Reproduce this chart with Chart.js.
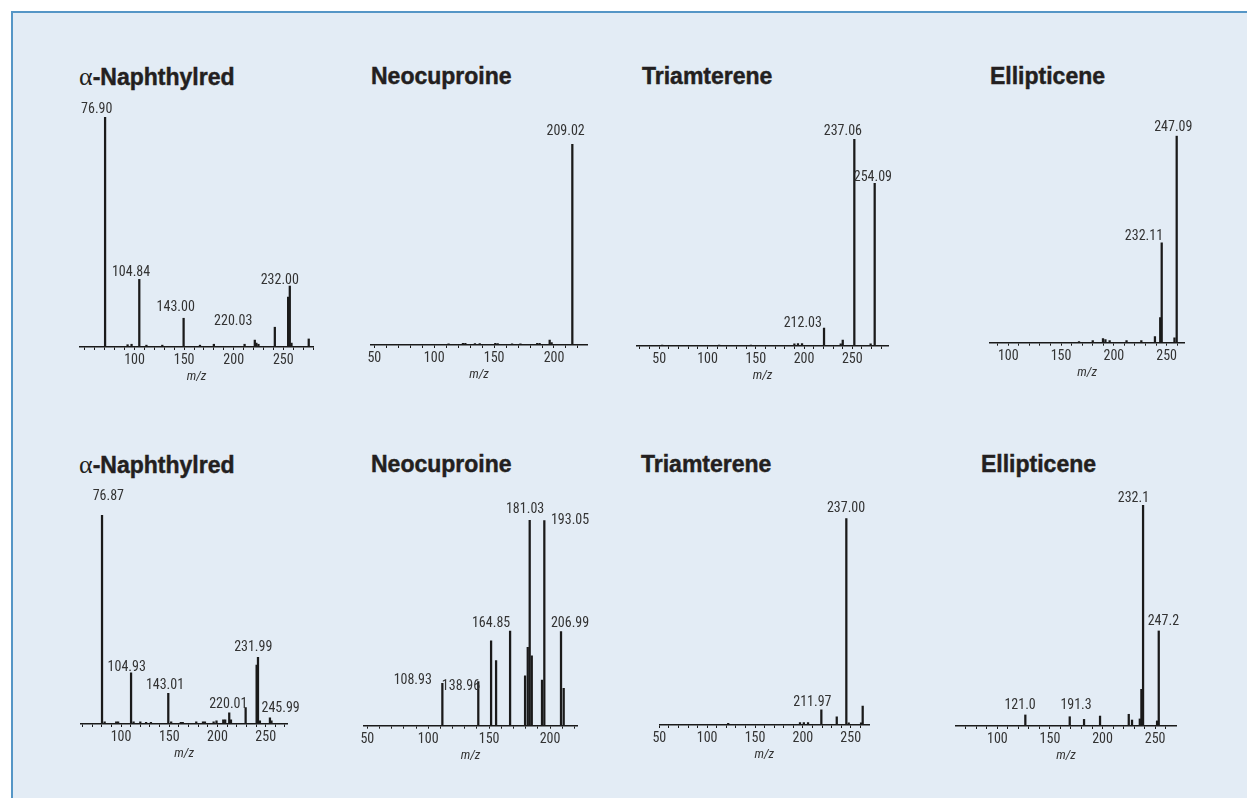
<!DOCTYPE html>
<html><head><meta charset="utf-8">
<script src="https://cdn.jsdelivr.net/npm/chart.js@4.4.1/dist/chart.umd.min.js"></script>
<style>
html,body{margin:0;padding:0;background:#fff;width:1247px;height:798px;overflow:hidden;}
#frame{position:absolute;left:11px;top:11px;width:1236px;height:787px;background:#e3ecf5;border-top:2px solid #5596c6;border-left:2px solid #5596c6;box-sizing:border-box;}
.ttl{position:absolute;font:bold 23px "Liberation Sans",Arial,sans-serif;color:#231f20;line-height:23px;white-space:nowrap;-webkit-text-stroke:0.45px #231f20;}
.ttl .a{font-weight:normal;font-family:"Liberation Serif","Times New Roman",serif;font-size:26px;-webkit-text-stroke:0;}
canvas{position:absolute;}
</style></head><body>
<div id="frame"></div>
<script>
// ---------- titles ----------
const titles = ["α-Naphthylred","Neocuproine","Triamterene","Ellipticene","α-Naphthylred","Neocuproine","Triamterene","Ellipticene"];

// ---------- data (m/z position on axis, relative intensity %) ----------
// Panel 1: α-Naphthylred (top)
const nap1_mz  = [70.3, 93, 97, 104.8, 112, 128, 149.5, 166, 180, 211, 221.3, 222.9, 225, 241.5, 254.9, 256.6, 258.3, 275.7];
const nap1_int = [100, 1, 1.2, 29.4, 0.8, 0.8, 12.5, 0.8, 1.2, 1.2, 3, 1.7, 1.2, 8.6, 21.7, 26.5, 1.7, 3.5];
const nap1_labels = ["76.90","104.84","143.00","220.03","232.00"];
const nap1_labelMz = [61.9, 96.5, 141.5, 199.5, 246.5];
const nap1_labelInt = [103.3, 32.3, 17.3, 11, 29.1];
const nap1_range = [45, 280];
const nap1_ticks = [100,150,200,250];

// Panel 2: Neocuproine (top)
const neo1_mz  = [112, 124, 126, 134, 138, 151, 153, 165, 172, 186, 188, 196.4, 198, 215.3];
const neo1_int = [0.6, 0.8, 0.8, 0.7, 0.7, 0.8, 0.7, 0.6, 0.6, 0.8, 0.8, 2.5, 1.2, 100];
const neo1_labels = ["209.02"];
const neo1_labelMz = [209.7];
const neo1_labelInt = [106.1];
const neo1_range = [47, 227.8];
const neo1_ticks = [50,100,150,200];

// Panel 3: Triamterene (top)
const tri1_mz  = [53, 112, 145, 190, 193.7, 197.9, 220.7, 238, 240.1, 252.1, 269, 273.2];
const tri1_int = [0.5, 0.5, 0.5, 1, 1.2, 1.2, 8.6, 1, 2.9, 100, 1, 78.6];
const tri1_labels = ["237.06","254.09","212.03"];
const tri1_labelMz = [240.2, 271.3, 198.7];
const tri1_labelInt = [103.5, 81.2, 11.1];
const tri1_range = [26.6, 287.3];
const tri1_ticks = [50,100,150,200,250];

// Panel 4: Ellipticene (top)
const ell1_mz  = [167, 180, 189.7, 192, 196, 212, 226, 238.9, 243.9, 245.3, 257.4, 259.5];
const ell1_int = [0.6, 1, 2, 1.5, 1, 1, 1, 2.9, 12.1, 48.3, 2.4, 100];
const ell1_labels = ["247.09","232.11"];
const ell1_labelMz = [256.3, 228.5];
const ell1_labelInt = [103.9, 51.2];
const ell1_range = [82.7, 266.7];
const ell1_ticks = [100,150,200,250];

// Panel 5: α-Naphthylred (bottom)
const nap2_mz  = [80.3, 83, 95, 97, 110.4, 113, 120, 126, 131, 149, 152, 162, 164, 178, 185, 187, 196, 199, 206, 208, 212.2, 214, 229.2, 240.6, 242, 244, 254.4, 256];
const nap2_int = [100, 1, 1, 1, 24.5, 1, 1, 0.8, 0.8, 14.7, 1, 0.8, 0.8, 1, 1, 1, 1, 1.5, 2, 2, 5.4, 2, 7.8, 28.2, 31.9, 1.5, 2.9, 1.5];
const nap2_labels = ["76.87","104.93","143.01","220.01","231.99","245.99"];
const nap2_labelMz = [86.8, 105.9, 145.6, 211.2, 237.1, 265.5];
const nap2_labelInt = [108.8, 26.9, 18.2, 9.4, 36.7, 7.5];
const nap2_range = [58.5, 272.4];
const nap2_ticks = [100,150,200,250];

// Panel 6: Neocuproine (bottom)
const neo2_mz  = [111.6, 141.1, 151.6, 155.7, 167.2, 179.5, 181.7, 183.3, 185, 193.4, 195.3, 209, 211.2];
const neo2_int = [20.6, 21.4, 41.3, 31.6, 46, 24.2, 38.1, 100, 34, 22.2, 99.7, 45.7, 18.2];
const neo2_labels = ["181.03","193.05","164.85","206.99","108.93","138.96"];
const neo2_labelMz = [179.5, 216.4, 151.6, 216.4, 87.3, 126.9];
const neo2_labelInt = [104.9, 100, 49.8, 49.8, 22.2, 19];
const neo2_range = [46.7, 222.7];
const neo2_ticks = [50,100,150,200];

// Panel 7: Triamterene (bottom)
const tri2_mz  = [122, 197, 201, 205.4, 219.3, 235.4, 245.4, 247.9, 260.8, 262.5];
const tri2_int = [0.8, 1.2, 1.2, 1.2, 7.3, 4, 100, 1, 1, 9.2];
const tri2_labels = ["237.00","211.97"];
const tri2_labelMz = [245.1, 209.9];
const tri2_labelInt = [104.5, 10.8];
const tri2_range = [50, 269.4];
const tri2_ticks = [50,100,150,200,250];

// Panel 8: Ellipticene (bottom)
const ell2_mz  = [126.6, 168.8, 182.4, 197.6, 224.9, 228, 235.4, 236.9, 238.5, 251.8, 253.4];
const ell2_int = [5, 4.2, 3, 4.5, 5.3, 2.7, 3.2, 16.6, 100, 2.3, 43];
const ell2_labels = ["232.1","247.2","121.0","191.3"];
const ell2_labelMz = [229.3, 257.8, 121.6, 174.8];
const ell2_labelInt = [103, 47.5, 9.2, 9.2];
const ell2_range = [60.7, 269.8];
const ell2_ticks = [100,150,200,250];

// ---------- layout (page pixels) ----------
const layout = [
  {left:80,    right:313,    axis:347,   h:230,   tx:79,  ty:84},
  {left:370.7, right:587.3,  axis:345,   h:201,   tx:371, ty:84},
  {left:636.7, right:888.3,  axis:346,   h:207,   tx:642, ty:84},
  {left:990,   right:1184.3, axis:342.7, h:207,   tx:990, ty:84},
  {left:81,    right:287.3,  axis:724,   h:209,   tx:79,  ty:472},
  {left:363.3, right:577.7,  axis:725.7, h:205.7, tx:371, ty:472},
  {left:659.3, right:869.3,  axis:725,   h:206.7, tx:641, ty:472},
  {left:956,   right:1176,   axis:726,   h:221,   tx:981, ty:472}
];

const panels = [
  {mz:nap1_mz, int:nap1_int, labels:nap1_labels, lmz:nap1_labelMz, lint:nap1_labelInt, range:nap1_range, ticks:nap1_ticks},
  {mz:neo1_mz, int:neo1_int, labels:neo1_labels, lmz:neo1_labelMz, lint:neo1_labelInt, range:neo1_range, ticks:neo1_ticks},
  {mz:tri1_mz, int:tri1_int, labels:tri1_labels, lmz:tri1_labelMz, lint:tri1_labelInt, range:tri1_range, ticks:tri1_ticks},
  {mz:ell1_mz, int:ell1_int, labels:ell1_labels, lmz:ell1_labelMz, lint:ell1_labelInt, range:ell1_range, ticks:ell1_ticks},
  {mz:nap2_mz, int:nap2_int, labels:nap2_labels, lmz:nap2_labelMz, lint:nap2_labelInt, range:nap2_range, ticks:nap2_ticks},
  {mz:neo2_mz, int:neo2_int, labels:neo2_labels, lmz:neo2_labelMz, lint:neo2_labelInt, range:neo2_range, ticks:neo2_ticks},
  {mz:tri2_mz, int:tri2_int, labels:tri2_labels, lmz:tri2_labelMz, lint:tri2_labelInt, range:tri2_range, ticks:tri2_ticks},
  {mz:ell2_mz, int:ell2_int, labels:ell2_labels, lmz:ell2_labelMz, lint:ell2_labelInt, range:ell2_range, ticks:ell2_ticks}
];

const NARROW = "'Liberation Sans Narrow','Arial Narrow','Roboto Condensed',sans-serif";
const TEXT = '#333333';
const INK = '#1a1a1a';
const AXIS_H = 38;

function labelPlugin(p) {
  return {
    id: 'peakLabels',
    afterDatasetsDraw(chart) {
      const {ctx, scales} = chart;
      ctx.save();
      ctx.font = "14px " + NARROW;
      ctx.fillStyle = TEXT;
      ctx.textAlign = 'center';
      ctx.textBaseline = 'middle';
      p.labels.forEach((t, i) => {
        ctx.fillText(t, scales.x.getPixelForValue(p.lmz[i]), scales.y.getPixelForValue(p.lint[i]));
      });
      ctx.restore();
    }
  };
}

panels.forEach((p, k) => {
  const L = layout[k];
  // title
  const d = document.createElement('div');
  d.className = 'ttl';
  const t = titles[k];
  if (t.startsWith('α')) {
    d.innerHTML = '<span class="a">α</span>' + t.slice(1);
  } else d.textContent = t;
  d.style.left = L.tx + 'px';
  d.style.top = (L.ty - 19.5) + 'px';
  document.body.appendChild(d);

  // canvas geometry
  const padX = 40, padTop = 35;
  const cl = Math.floor(L.left) - padX;
  const ct = Math.floor(L.axis - L.h) - padTop;
  const W = Math.ceil(L.right) + padX - cl;
  const topPad = (L.axis - L.h) - ct;
  const H = Math.ceil(topPad + L.h + AXIS_H + 2);
  const c = document.createElement('canvas');
  c.width = W; c.height = H;
  c.style.left = cl + 'px'; c.style.top = ct + 'px';
  c.style.width = W + 'px'; c.style.height = H + 'px';
  document.body.appendChild(c);

  const minorTicks = [];
  for (let v = Math.ceil(p.range[0] / 10) * 10; v <= p.range[1]; v += 10) minorTicks.push(v);

  new Chart(c, {
    type: 'bar',
    data: {
      datasets: [{
        data: p.mz.map((m, i) => ({x: m, y: p.int[i]})),
        backgroundColor: INK,
        borderWidth: 0,
        barThickness: 1.6,
        grouped: false
      }]
    },
    options: {
      responsive: false,
      animation: false,
      devicePixelRatio: 1,
      layout: {padding: {left: L.left - cl, right: W - (L.right - cl), top: topPad, bottom: H - topPad - L.h - AXIS_H}},
      plugins: {legend: {display: false}, tooltip: {enabled: false}},
      scales: {
        x: {
          type: 'linear', min: p.range[0], max: p.range[1], offset: false,
          afterBuildTicks: s => { s.ticks = minorTicks.map(v => ({value: v})); },
          afterFit: s => { s.height = AXIS_H; },
          grid: {offset: false, drawOnChartArea: false, drawTicks: true, tickLength: 3, color: INK, lineWidth: 1},
          border: {display: true, color: INK, width: 1.5},
          ticks: {autoSkip: false, maxRotation: 0, minRotation: 0, padding: 2, color: TEXT,
                  font: {family: NARROW, size: 14},
                  callback: v => p.ticks.includes(v) ? String(v) : ''},
          title: {display: true, text: 'm/z', color: TEXT, padding: 0,
                  font: {family: NARROW, size: 13, style: 'italic'}}
        },
        y: {display: false, min: 0, max: 100}
      }
    },
    plugins: [labelPlugin(p)]
  });
});
</script>
</body></html>
